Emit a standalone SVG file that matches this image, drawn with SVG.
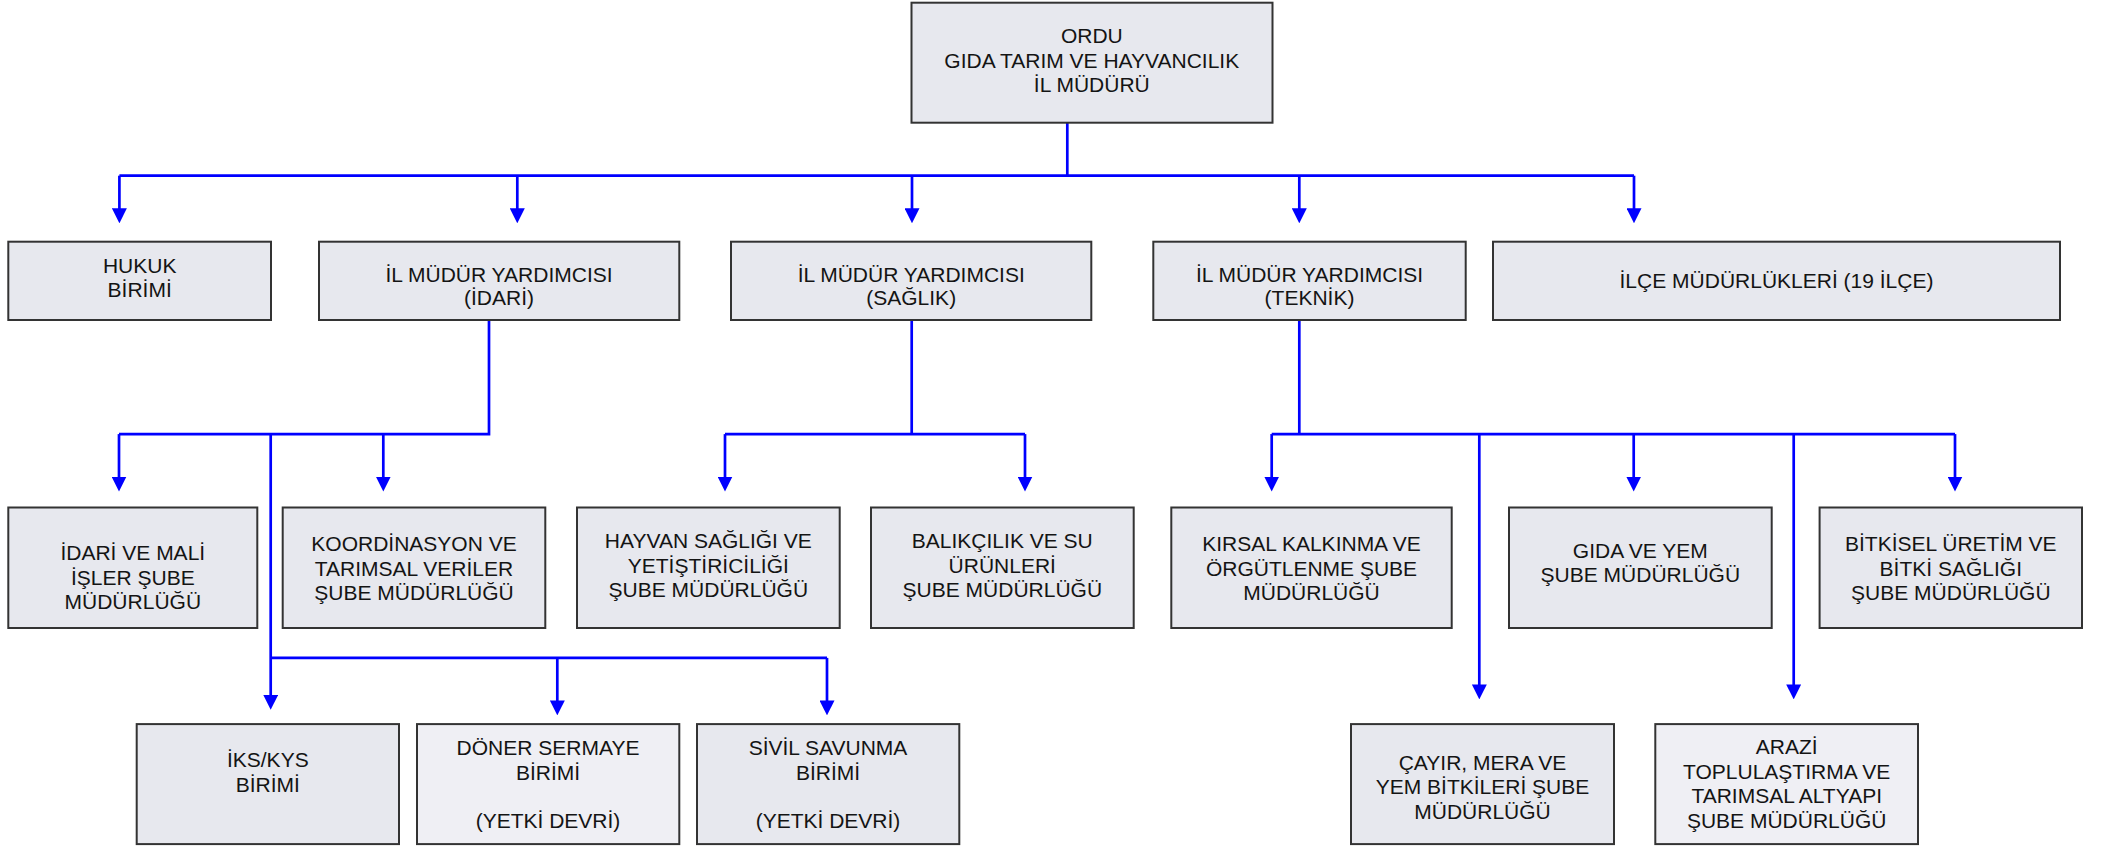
<svg xmlns="http://www.w3.org/2000/svg" width="2105" height="846" viewBox="0 0 2105 846">
<style>
  .box { fill: #E7E8EE; stroke: #333333; stroke-width: 2; }
  .box.light { fill: #EFEFF4; }
  .lbl { font-family: "Liberation Sans", Arial, sans-serif; font-size: 21px; fill: #141414; text-anchor: middle; }
  .conn { fill: none; stroke: #0000FF; stroke-width: 2.7; }
</style>
<defs>
  <marker id="arrow" markerUnits="userSpaceOnUse" markerWidth="15" markerHeight="15" viewBox="0 0 15 15" refX="2" refY="7.5" orient="auto">
    <path d="M0,0 L15,7.5 L0,15 Z" fill="#0000FF"/>
  </marker>
</defs>
<rect width="2105" height="846" fill="#FFFFFF"/>

<g id="connectors">
  <!-- top level -->
  <path class="conn" d="M1067.3,122.7 V175.7"/>
  <path class="conn" d="M119.4,175.7 H1634"/>
  <path class="conn" marker-end="url(#arrow)" d="M119.4,175.7 V210.3"/>
  <path class="conn" marker-end="url(#arrow)" d="M517.3,175.7 V210.3"/>
  <path class="conn" marker-end="url(#arrow)" d="M912,175.7 V210.3"/>
  <path class="conn" marker-end="url(#arrow)" d="M1299.3,175.7 V210.3"/>
  <path class="conn" marker-end="url(#arrow)" d="M1634,175.7 V210.3"/>
  <!-- İDARİ -->
  <path class="conn" d="M489,320 V434.1 H119"/>
  <path class="conn" marker-end="url(#arrow)" d="M119,434.1 V478.5"/>
  <path class="conn" marker-end="url(#arrow)" d="M383.3,434.1 V478.5"/>
  <path class="conn" marker-end="url(#arrow)" d="M270.7,434.1 V696.8"/>
  <path class="conn" d="M270.7,657.9 H827"/>
  <path class="conn" marker-end="url(#arrow)" d="M557.3,657.9 V702.4"/>
  <path class="conn" marker-end="url(#arrow)" d="M827,657.9 V702.4"/>
  <!-- SAĞLIK -->
  <path class="conn" d="M911.7,320 V434.1"/>
  <path class="conn" d="M725,434.1 H1025"/>
  <path class="conn" marker-end="url(#arrow)" d="M725,434.1 V478.5"/>
  <path class="conn" marker-end="url(#arrow)" d="M1025,434.1 V478.5"/>
  <!-- TEKNİK -->
  <path class="conn" d="M1299.3,320 V434.1"/>
  <path class="conn" d="M1271.7,434.1 H1955"/>
  <path class="conn" marker-end="url(#arrow)" d="M1271.7,434.1 V478.5"/>
  <path class="conn" marker-end="url(#arrow)" d="M1479.3,434.1 V686.4"/>
  <path class="conn" marker-end="url(#arrow)" d="M1633.7,434.1 V478.5"/>
  <path class="conn" marker-end="url(#arrow)" d="M1793.7,434.1 V686.4"/>
  <path class="conn" marker-end="url(#arrow)" d="M1955,434.1 V478.5"/>
</g>

<g id="n-mudur">
  <rect class="box" x="911.5" y="2.7" width="361" height="120"/>
  <text class="lbl"><tspan x="1091.8" y="43.3">ORDU</tspan><tspan x="1091.8" y="67.5">GIDA TARIM VE HAYVANCILIK</tspan><tspan x="1091.8" y="91.7">İL MÜDÜRÜ</tspan></text>
</g>

<g id="n-hukuk">
  <rect class="box" x="8.3" y="241.7" width="262.7" height="78.3"/>
  <text class="lbl"><tspan x="139.7" y="273.3">HUKUK</tspan><tspan x="139.7" y="296.7">BİRİMİ</tspan></text>
</g>
<g id="n-idari">
  <rect class="box" x="319" y="241.7" width="360.3" height="78.3"/>
  <text class="lbl"><tspan x="499" y="281.7">İL MÜDÜR YARDIMCISI</tspan><tspan x="499" y="305">(İDARİ)</tspan></text>
</g>
<g id="n-saglik">
  <rect class="box" x="731" y="241.7" width="360.3" height="78.3"/>
  <text class="lbl"><tspan x="911.2" y="281.7">İL MÜDÜR YARDIMCISI</tspan><tspan x="911.2" y="305">(SAĞLIK)</tspan></text>
</g>
<g id="n-teknik">
  <rect class="box" x="1153.3" y="241.7" width="312.4" height="78.3"/>
  <text class="lbl"><tspan x="1309.5" y="281.7">İL MÜDÜR YARDIMCISI</tspan><tspan x="1309.5" y="305">(TEKNİK)</tspan></text>
</g>
<g id="n-ilce">
  <rect class="box" x="1493" y="241.7" width="567" height="78.3"/>
  <text class="lbl"><tspan x="1776.5" y="288.3">İLÇE MÜDÜRLÜKLERİ (19 İLÇE)</tspan></text>
</g>

<g id="n-idarimali">
  <rect class="box" x="8.3" y="507.5" width="249" height="120.5"/>
  <text class="lbl"><tspan x="132.8" y="560.4">İDARİ VE MALİ</tspan><tspan x="132.8" y="584.8">İŞLER ŞUBE</tspan><tspan x="132.8" y="609.2">MÜDÜRLÜĞÜ</tspan></text>
</g>
<g id="n-koord">
  <rect class="box" x="282.7" y="507.5" width="262.6" height="120.5"/>
  <text class="lbl"><tspan x="414" y="551.4">KOORDİNASYON VE</tspan><tspan x="414" y="575.8">TARIMSAL VERİLER</tspan><tspan x="414" y="600.1">ŞUBE MÜDÜRLÜĞÜ</tspan></text>
</g>
<g id="n-hayvan">
  <rect class="box" x="577" y="507.5" width="262.7" height="120.5"/>
  <text class="lbl"><tspan x="708.3" y="548.3">HAYVAN SAĞLIĞI VE</tspan><tspan x="708.3" y="572.6">YETİŞTİRİCİLİĞİ</tspan><tspan x="708.3" y="597">ŞUBE MÜDÜRLÜĞÜ</tspan></text>
</g>
<g id="n-balik">
  <rect class="box" x="871" y="507.5" width="262.7" height="120.5"/>
  <text class="lbl"><tspan x="1002.3" y="548.3">BALIKÇILIK VE SU</tspan><tspan x="1002.3" y="572.6">ÜRÜNLERİ</tspan><tspan x="1002.3" y="597">ŞUBE MÜDÜRLÜĞÜ</tspan></text>
</g>
<g id="n-kirsal">
  <rect class="box" x="1171.3" y="507.5" width="280.4" height="120.5"/>
  <text class="lbl"><tspan x="1311.5" y="551.4">KIRSAL KALKINMA VE</tspan><tspan x="1311.5" y="575.8">ÖRGÜTLENME ŞUBE</tspan><tspan x="1311.5" y="600.1">MÜDÜRLÜĞÜ</tspan></text>
</g>
<g id="n-gida">
  <rect class="box" x="1509" y="507.5" width="262.7" height="120.5"/>
  <text class="lbl"><tspan x="1640.3" y="557.7">GIDA VE YEM</tspan><tspan x="1640.3" y="582">ŞUBE MÜDÜRLÜĞÜ</tspan></text>
</g>
<g id="n-bitkisel">
  <rect class="box" x="1819.6" y="507.5" width="262.4" height="120.5"/>
  <text class="lbl"><tspan x="1950.8" y="551.4">BİTKİSEL ÜRETİM VE</tspan><tspan x="1950.8" y="575.8">BİTKİ SAĞLIĞI</tspan><tspan x="1950.8" y="600.1">ŞUBE MÜDÜRLÜĞÜ</tspan></text>
</g>

<g id="n-iks">
  <rect class="box" x="136.7" y="724.1" width="262.3" height="120"/>
  <text class="lbl"><tspan x="267.8" y="767.3">İKS/KYS</tspan><tspan x="267.8" y="791.6">BİRİMİ</tspan></text>
</g>
<g id="n-doner">
  <rect class="box light" x="417" y="724.1" width="262.3" height="120"/>
  <text class="lbl"><tspan x="548" y="755.1">DÖNER SERMAYE</tspan><tspan x="548" y="779.5">BİRİMİ</tspan><tspan x="548" y="828.2">(YETKİ DEVRİ)</tspan></text>
</g>
<g id="n-sivil">
  <rect class="box" x="697" y="724.1" width="262.3" height="120"/>
  <text class="lbl"><tspan x="828" y="755.1">SİVİL SAVUNMA</tspan><tspan x="828" y="779.5">BİRİMİ</tspan><tspan x="828" y="828.2">(YETKİ DEVRİ)</tspan></text>
</g>
<g id="n-cayir">
  <rect class="box" x="1351" y="724.1" width="263" height="120"/>
  <text class="lbl"><tspan x="1482.5" y="770">ÇAYIR, MERA VE</tspan><tspan x="1482.5" y="794.4">YEM BİTKİLERİ ŞUBE</tspan><tspan x="1482.5" y="818.8">MÜDÜRLÜĞÜ</tspan></text>
</g>
<g id="n-arazi">
  <rect class="box light" x="1655.3" y="724.1" width="262.7" height="120"/>
  <text class="lbl"><tspan x="1786.7" y="754.4">ARAZİ</tspan><tspan x="1786.7" y="778.8">TOPLULAŞTIRMA VE</tspan><tspan x="1786.7" y="803.1">TARIMSAL ALTYAPI</tspan><tspan x="1786.7" y="827.5">ŞUBE MÜDÜRLÜĞÜ</tspan></text>
</g>
</svg>
